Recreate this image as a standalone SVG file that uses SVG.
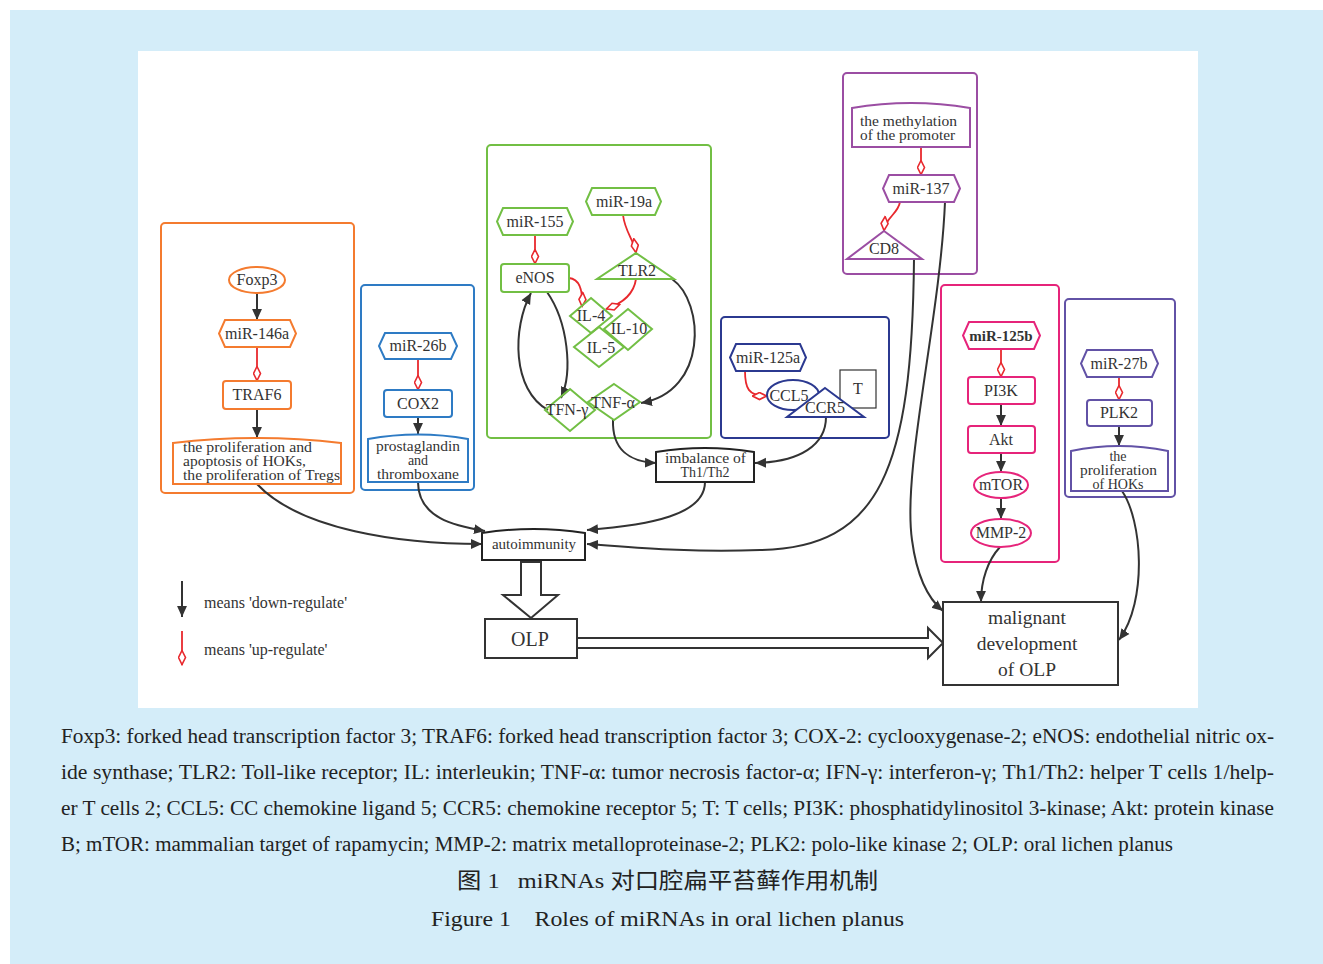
<svg xmlns="http://www.w3.org/2000/svg" width="1323" height="964" viewBox="0 0 1323 964">
<style>
.t{font-family:"Liberation Serif","DejaVu Serif",serif;fill:#333;font-size:16px;text-anchor:middle}
.tl{font-family:"Liberation Serif","DejaVu Serif",serif;fill:#333;font-size:14px}
.cap{font-family:"Liberation Serif","DejaVu Serif",serif;fill:#222;font-size:20px}
.k{fill:none;stroke:#333;stroke-width:2}
.r{fill:none;stroke:#e8282d;stroke-width:1.8}
.or{fill:#fff;stroke:#f47b2f;stroke-width:2}
.bl{fill:#fff;stroke:#2e7bc4;stroke-width:2}
.gr{fill:#fff;stroke:#72bf44;stroke-width:2}
.gn{fill:none;stroke:#72bf44;stroke-width:2}
.nv{fill:#fff;stroke:#2b3990;stroke-width:2}
.pu{fill:#fff;stroke:#9b4ea3;stroke-width:2}
.pk{fill:#fff;stroke:#e6247a;stroke-width:2}
.vi{fill:#fff;stroke:#6252a6;stroke-width:2}
.bk{fill:#fff;stroke:#222;stroke-width:2}
</style>
<defs>
<marker id="ah" viewBox="0 0 10 10" refX="10" refY="5" markerWidth="11" markerHeight="11" markerUnits="userSpaceOnUse" orient="auto"><path d="M0,0.5 L10,5 L0,9.5 z" fill="#333"/></marker>
<marker id="dm" viewBox="0 0 16 9" refX="15.5" refY="4.5" markerWidth="16" markerHeight="9" markerUnits="userSpaceOnUse" orient="auto"><path d="M1,4.5 L8,1 L15,4.5 L8,8 z" fill="#fff" stroke="#e8282d" stroke-width="1.6"/></marker>
</defs>
<rect width="1323" height="964" fill="#fff"/>
<rect x="10" y="10" width="1313" height="954" fill="#d4edf9"/>
<rect x="138" y="51" width="1060" height="657" fill="#fff"/>

<!-- cluster boxes -->
<g id="cluster-orange"><rect x="161" y="223" width="193" height="270" rx="4" fill="none" stroke="#f47b2f" stroke-width="2"/></g>
<g id="cluster-blue"><rect x="361" y="285" width="113" height="205" rx="4" fill="none" stroke="#2e7bc4" stroke-width="2"/></g>
<g id="cluster-green"><rect x="487" y="145" width="224" height="293" rx="4" fill="none" stroke="#72bf44" stroke-width="2"/></g>
<g id="cluster-navy"><rect x="721" y="317" width="168" height="121" rx="4" fill="none" stroke="#2b3990" stroke-width="2"/></g>
<g id="cluster-purple"><rect x="843" y="73" width="134" height="201" rx="4" fill="none" stroke="#9b4ea3" stroke-width="2"/></g>
<g id="cluster-pink"><rect x="941" y="285" width="118" height="277" rx="4" fill="none" stroke="#e6247a" stroke-width="2"/></g>
<g id="cluster-violet"><rect x="1065" y="299" width="110" height="198" rx="4" fill="none" stroke="#6252a6" stroke-width="2"/></g>

<!-- connectors -->
<g id="connectors">
<path class="k" d="M257,293 L257,320" marker-end="url(#ah)"/>
<path class="r" d="M257,347 L257,381" marker-end="url(#dm)"/>
<path class="k" d="M257,409 L257,438" marker-end="url(#ah)"/>
<path class="k" d="M257,484 C 300,530 400,544 482,544" marker-end="url(#ah)"/>
<path class="r" d="M418,359 L418,390" marker-end="url(#dm)"/>
<path class="k" d="M418,417 L418,434" marker-end="url(#ah)"/>
<path class="k" d="M418,482 C 418,518 455,526 485,531" marker-end="url(#ah)"/>
<path class="r" d="M535,235 L535,264" marker-end="url(#dm)"/>
<path class="r" d="M623,215 C 625,232 634,240 636,253" marker-end="url(#dm)"/>
<path class="r" d="M569,278 C 580,279 583,290 582,307" marker-end="url(#dm)"/>
<path class="r" d="M636,279 C 634,293 624,303 606,309" marker-end="url(#dm)"/>
<path class="k" d="M547,292 C 568,322 573,372 561,398" marker-end="url(#ah)"/>
<path class="k" d="M548,410 C 512,390 512,328 531,293" marker-end="url(#ah)"/>
<path class="k" d="M672,279 C 705,302 708,392 641,403" marker-end="url(#ah)"/>
<path class="k" d="M613,420 C 612,450 630,462 656,463" marker-end="url(#ah)"/>
<path class="r" d="M745,371 C 745,388 748,396 767,396" marker-end="url(#dm)"/>
<path class="k" d="M826,417 C 826,445 800,462 755,463" marker-end="url(#ah)"/>
<path class="k" d="M705,482 C 705,515 650,525 587,530" marker-end="url(#ah)"/>
<path class="r" d="M921,147 L921,175" marker-end="url(#dm)"/>
<path class="r" d="M900,202 C 898,214 885,218 884,231" marker-end="url(#dm)"/>
<path class="k" d="M914,259 C 912,470 880,548 760,550 C 690,553 630,547 587,544" marker-end="url(#ah)"/>
<path class="k" d="M945,202 C 940,320 902,470 912,540 C 918,585 932,602 943,611" marker-end="url(#ah)"/>
<path class="r" d="M1001,349 L1001,377" marker-end="url(#dm)"/>
<path class="k" d="M1001,404 L1001,426" marker-end="url(#ah)"/>
<path class="k" d="M1001,453 L1001,472" marker-end="url(#ah)"/>
<path class="k" d="M1001,498 L1001,519" marker-end="url(#ah)"/>
<path class="k" d="M1000,547 C 988,560 981,580 981,602" marker-end="url(#ah)"/>
<path class="r" d="M1119,377 L1119,400" marker-end="url(#dm)"/>
<path class="k" d="M1119,426 L1119,446" marker-end="url(#ah)"/>
<path class="k" d="M1122,491 C 1142,520 1148,600 1119,640" marker-end="url(#ah)"/>
<path d="M521,562 L541,562 L541,595 L558,595 L531,618 L503,595 L521,595 Z" fill="#fff" stroke="#333" stroke-width="2"/>
<path d="M577,638 L928,638 L928,628 L943,643 L928,658 L928,648 L577,648" fill="#fff" stroke="#333" stroke-width="2"/>
</g>

<!-- orange nodes -->
<g id="foxp3"><ellipse class="or" cx="257" cy="280" rx="28" ry="13"/><text class="t" x="257" y="285">Foxp3</text></g>
<g id="mir146a"><polygon class="or" points="225,320 290,320 296,333.5 290,347 225,347 219,333.5"/><text class="t" x="257" y="339">miR-146a</text></g>
<g id="traf6"><rect class="or" x="223" y="381" width="68" height="28" rx="3"/><text class="t" x="257" y="400">TRAF6</text></g>
<g id="prolif-hoks-tregs"><path class="or" d="M173,443 Q257,433 341,443 L341,484 L173,484 Z"/><text class="tl" x="183" y="452" textLength="129" lengthAdjust="spacingAndGlyphs">the proliferation and</text><text class="tl" x="183" y="466" textLength="123" lengthAdjust="spacingAndGlyphs">apoptosis of HOKs,</text><text class="tl" x="183" y="480" textLength="157" lengthAdjust="spacingAndGlyphs">the proliferation of Tregs</text></g>

<!-- blue nodes -->
<g id="mir26b"><polygon class="bl" points="385,333 451,333 457,346 451,359 385,359 379,346"/><text class="t" x="418" y="351">miR-26b</text></g>
<g id="cox2"><rect class="bl" x="384" y="390" width="68" height="27" rx="3"/><text class="t" x="418" y="409">COX2</text></g>
<g id="prostaglandin"><path class="bl" d="M368,439 Q418,430 468,439 L468,482 L368,482 Z"/><text class="tl" x="376" y="451" textLength="84" lengthAdjust="spacingAndGlyphs">prostaglandin</text><text class="tl" x="418" y="465" text-anchor="middle">and</text><text class="tl" x="377" y="479" textLength="82" lengthAdjust="spacingAndGlyphs">thromboxane</text></g>

<!-- green nodes -->
<g id="mir155"><polygon class="gr" points="503,208 567,208 573,221.5 567,235 503,235 497,221.5"/><text class="t" x="535" y="227">miR-155</text></g>
<g id="enos"><rect class="gr" x="501" y="264" width="68" height="28" rx="3"/><text class="t" x="535" y="283">eNOS</text></g>
<g id="mir19a"><polygon class="gr" points="592,188 655,188 661,201.5 655,215 592,215 586,201.5"/><text class="t" x="624" y="207">miR-19a</text></g>
<g id="tlr2"><polygon class="gr" points="636,253 674,279 597,279"/><text class="t" x="637" y="276">TLR2</text></g>
<g id="il10"><polygon class="gn" points="628,309 652,329 628,350 604,329"/><text class="t" x="629" y="334">IL-10</text></g>
<g id="il4"><polygon class="gn" points="591,298 612,316 591,333 570,316"/><text class="t" x="591" y="321">IL-4</text></g>
<g id="il5"><polygon class="gn" points="599,327 624,347 599,367 574,347"/><text class="t" x="601" y="353">IL-5</text></g>
<g id="tfn-gamma"><polygon class="gn" points="570,389 595,410 570,431 545,410"/><text class="t" x="567" y="415">TFN-γ</text></g>
<g id="tnf-alpha"><polygon class="gn" points="614,384 640,402 614,420 588,402"/><text class="t" x="613" y="408">TNF-α</text></g>

<!-- navy nodes -->
<g id="mir125a"><polygon class="nv" points="736,344 800,344 806,357.5 800,371 736,371 730,357.5"/><text class="t" x="768" y="363">miR-125a</text></g>
<g id="t-cells"><rect x="840" y="370" width="36" height="38" fill="#fff" stroke="#333" stroke-width="1.2"/><text class="t" x="858" y="394">T</text></g>
<g id="ccl5"><ellipse class="nv" cx="793" cy="395" rx="26" ry="15"/></g>
<g id="ccr5"><polygon class="nv" points="825,388 864,417 787,417"/><text class="t" x="825" y="413">CCR5</text></g>
<text class="t" x="789" y="401">CCL5</text>

<!-- purple nodes -->
<g id="methylation"><path class="pu" d="M852,108 Q911,98 970,108 L970,147 L852,147 Z"/><text class="tl" x="860" y="126" textLength="97" lengthAdjust="spacingAndGlyphs">the methylation</text><text class="tl" x="860" y="140" textLength="95" lengthAdjust="spacingAndGlyphs">of the promoter</text></g>
<g id="mir137"><polygon class="pu" points="889,175 954,175 960,188.5 954,202 889,202 883,188.5"/><text class="t" x="921" y="194">miR-137</text></g>
<g id="cd8"><polygon class="pu" points="884,231 922,259 847,259"/><text class="t" x="884" y="254">CD8</text></g>

<!-- pink nodes -->
<g id="mir125b"><polygon class="pk" points="969,322 1034,322 1040,335.5 1034,349 969,349 963,335.5"/><text class="t" x="1001" y="341" font-weight="bold" style="font-size:15px">miR-125b</text></g>
<g id="pi3k"><rect class="pk" x="968" y="377" width="67" height="27" rx="3"/><text class="t" x="1001" y="396">PI3K</text></g>
<g id="akt"><rect class="pk" x="968" y="426" width="67" height="27" rx="3"/><text class="t" x="1001" y="445">Akt</text></g>
<g id="mtor"><ellipse class="pk" cx="1001" cy="485" rx="27" ry="13"/><text class="t" x="1001" y="490">mTOR</text></g>
<g id="mmp2"><ellipse class="pk" cx="1001" cy="533" rx="30" ry="14"/><text class="t" x="1001" y="538">MMP-2</text></g>

<!-- violet nodes -->
<g id="mir27b"><polygon class="vi" points="1087,350 1152,350 1158,363.5 1152,377 1087,377 1081,363.5"/><text class="t" x="1119" y="369">miR-27b</text></g>
<g id="plk2"><rect class="vi" x="1087" y="400" width="65" height="26" rx="3"/><text class="t" x="1119" y="418">PLK2</text></g>
<g id="prolif-hoks"><path class="vi" d="M1071,451 Q1119,441 1168,451 L1168,491 L1071,491 Z"/><text class="tl" x="1118" y="461" text-anchor="middle">the</text><text class="tl" x="1080" y="475" textLength="77" lengthAdjust="spacingAndGlyphs">proliferation</text><text class="tl" x="1118" y="489" text-anchor="middle">of HOKs</text></g>

<!-- central nodes -->
<g id="imbalance"><path class="bk" d="M656,452 Q705,444 754,452 L754,482 L656,482 Z"/><text class="tl" x="665" y="463" textLength="81" lengthAdjust="spacingAndGlyphs">imbalance of</text><text class="tl" x="705" y="477" text-anchor="middle">Th1/Th2</text></g>
<g id="autoimmunity"><path class="bk" d="M482,533 Q534,525 585,533 L585,560 L482,560 Z"/><text class="tl" x="534" y="549" text-anchor="middle" style="font-size:15px">autoimmunity</text></g>
<g id="olp"><rect x="485" y="619" width="92" height="39" fill="#fff" stroke="#333" stroke-width="2"/><text class="t" x="530" y="646" style="font-size:20px">OLP</text></g>
<g id="malignant"><rect x="943" y="602" width="175" height="83" fill="#fff" stroke="#333" stroke-width="2"/><text class="t" x="1027" y="624" style="font-size:19.5px">malignant</text><text class="t" x="1027" y="650" style="font-size:19.5px">development</text><text class="t" x="1027" y="676" style="font-size:19.5px">of OLP</text></g>

<!-- legend -->
<g id="legend">
<path class="k" d="M182,581 L182,617" marker-end="url(#ah)"/>
<text class="tl" x="204" y="608" style="font-size:16px">means 'down-regulate'</text>
<path class="r" d="M182,631 L182,665" marker-end="url(#dm)"/>
<text class="tl" x="204" y="655" style="font-size:16px">means 'up-regulate'</text>
</g>

<!-- caption -->
<g id="caption">
<text class="cap" x="61" y="743" textLength="1213" lengthAdjust="spacingAndGlyphs">Foxp3: forked head transcription factor 3; TRAF6: forked head transcription factor 3; COX-2: cyclooxygenase-2; eNOS: endothelial nitric ox-</text>
<text class="cap" x="61" y="779" textLength="1213" lengthAdjust="spacingAndGlyphs">ide synthase; TLR2: Toll-like receptor; IL: interleukin; TNF-α: tumor necrosis factor-α; IFN-γ: interferon-γ; Th1/Th2: helper T cells 1/help-</text>
<text class="cap" x="61" y="815" textLength="1213" lengthAdjust="spacingAndGlyphs">er T cells 2; CCL5: CC chemokine ligand 5; CCR5: chemokine receptor 5; T: T cells; PI3K: phosphatidylinositol 3-kinase; Akt: protein kinase</text>
<text class="cap" x="61" y="851" textLength="1112" lengthAdjust="spacingAndGlyphs">B; mTOR: mammalian target of rapamycin;  MMP-2: matrix metalloproteinase-2; PLK2: polo-like kinase 2; OLP: oral lichen planus</text>
<text x="457" y="888" font-family="'Liberation Serif','Noto Sans CJK SC',serif" font-size="22" fill="#222" xml:space="preserve" textLength="421" lengthAdjust="spacingAndGlyphs">图 1   miRNAs 对口腔扁平苔藓作用机制</text>
<text x="431" y="926" font-family="'Liberation Serif',serif" font-size="22" fill="#222" xml:space="preserve" textLength="473" lengthAdjust="spacingAndGlyphs">Figure 1    Roles of miRNAs in oral lichen planus</text>
</g>
</svg>
